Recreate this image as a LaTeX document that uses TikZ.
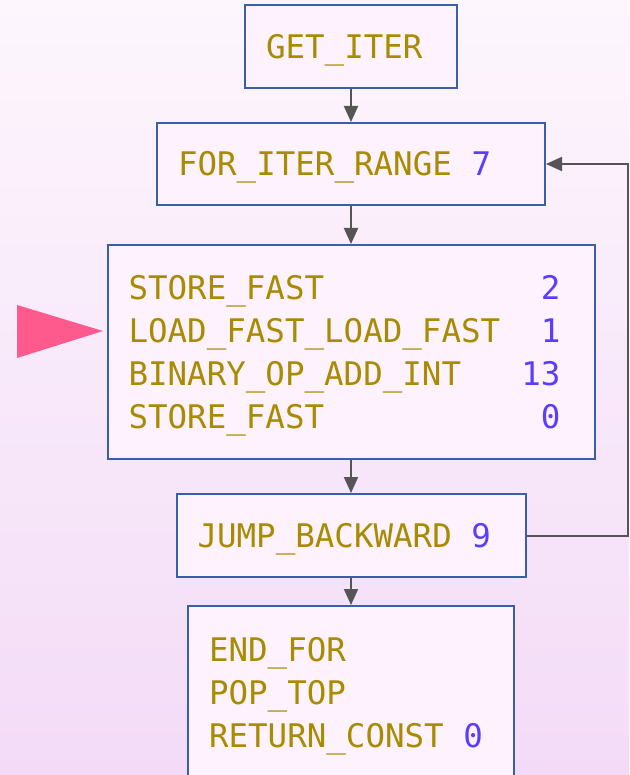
\documentclass[tikz,border=0pt]{standalone}
\usepackage{fontspec}
\setmonofont{DejaVu Sans Mono}
\usetikzlibrary{arrows.meta}

\definecolor{bgtop}{HTML}{FDF6FD}
\definecolor{bgbot}{HTML}{F3DBF7}
\definecolor{boxfill}{HTML}{FDF2FD}
\definecolor{boxline}{HTML}{3A5FAA}
\definecolor{opname}{HTML}{A88B00}
\definecolor{oparg}{HTML}{5A3DFF}
\definecolor{edge}{HTML}{555555}
\definecolor{marker}{HTML}{FF5A8E}

% opcode name and its argument
\newcommand{\opn}[1]{\textcolor{opname}{#1}}
\newcommand{\opa}[1]{\textcolor{oparg}{#1}}
\newcommand{\opsp}{\hspace{0.602em}}
\newcommand{\opline}[2]{\makebox[432pt][l]{\opn{#1}\hfill\opa{#2}}}

\begin{document}
\begin{tikzpicture}[x=1pt,y=-1pt,
    block/.style={draw=boxline,fill=boxfill,line width=2pt,inner xsep=21pt,inner ysep=0pt,
        align=left,text height=23.7pt,text depth=0pt,
        font=\fontsize{32.5}{43}\selectfont\ttfamily},
    flow/.style={draw=edge,line width=2pt,-{Triangle[length=16pt,width=14pt]}}]
                \useasboundingbox (0,0) rectangle (629,775);
                \shade[top color=bgtop,bottom color=bgbot] (0,0) rectangle (629,775);

                \node[block,text width=170pt,minimum height=83pt] (get) at (351,46.5) {\opn{GET\_ITER}};
                \node[block,text width=346pt,minimum height=82pt] (forr) at (351,164) {\opn{FOR\_ITER\_RANGE}\opsp\opa{7}};
                \node[block,text width=445pt,minimum height=214pt,text depth=129pt] (body) at (351,352)
                    {\opline{STORE\_FAST}{2}\\
                     \opline{LOAD\_FAST\_LOAD\_FAST}{1}\\
                     \opline{BINARY\_OP\_ADD\_INT}{13}\\
                     \opline{STORE\_FAST}{0}};
                \node[block,text width=307pt,minimum height=83pt] (jump) at (351,535.5) {\opn{JUMP\_BACKWARD}\opsp\opa{9}};
                \node[block,text width=284pt,minimum height=173pt,text depth=86pt] (tail) at (351,692.5)
                    {\opn{END\_FOR}\\
                     \opn{POP\_TOP}\\
                     \opn{RETURN\_CONST}\opsp\opa{0}};

                % straight-line flow
                \draw[flow] (get) -- (forr);
                \draw[flow] (forr) -- (body);
                \draw[flow] (body) -- (jump);
                \draw[flow] (jump) -- (tail);

                % loop back edge
                \coordinate (turn) at (628,164);
                \draw[flow] (jump.east) -| (turn) -- (forr.east);

                % current instruction marker
                \fill[marker] (17,305) -- (17,358) -- (103,331) -- cycle;
            \end{tikzpicture}
\end{document}
